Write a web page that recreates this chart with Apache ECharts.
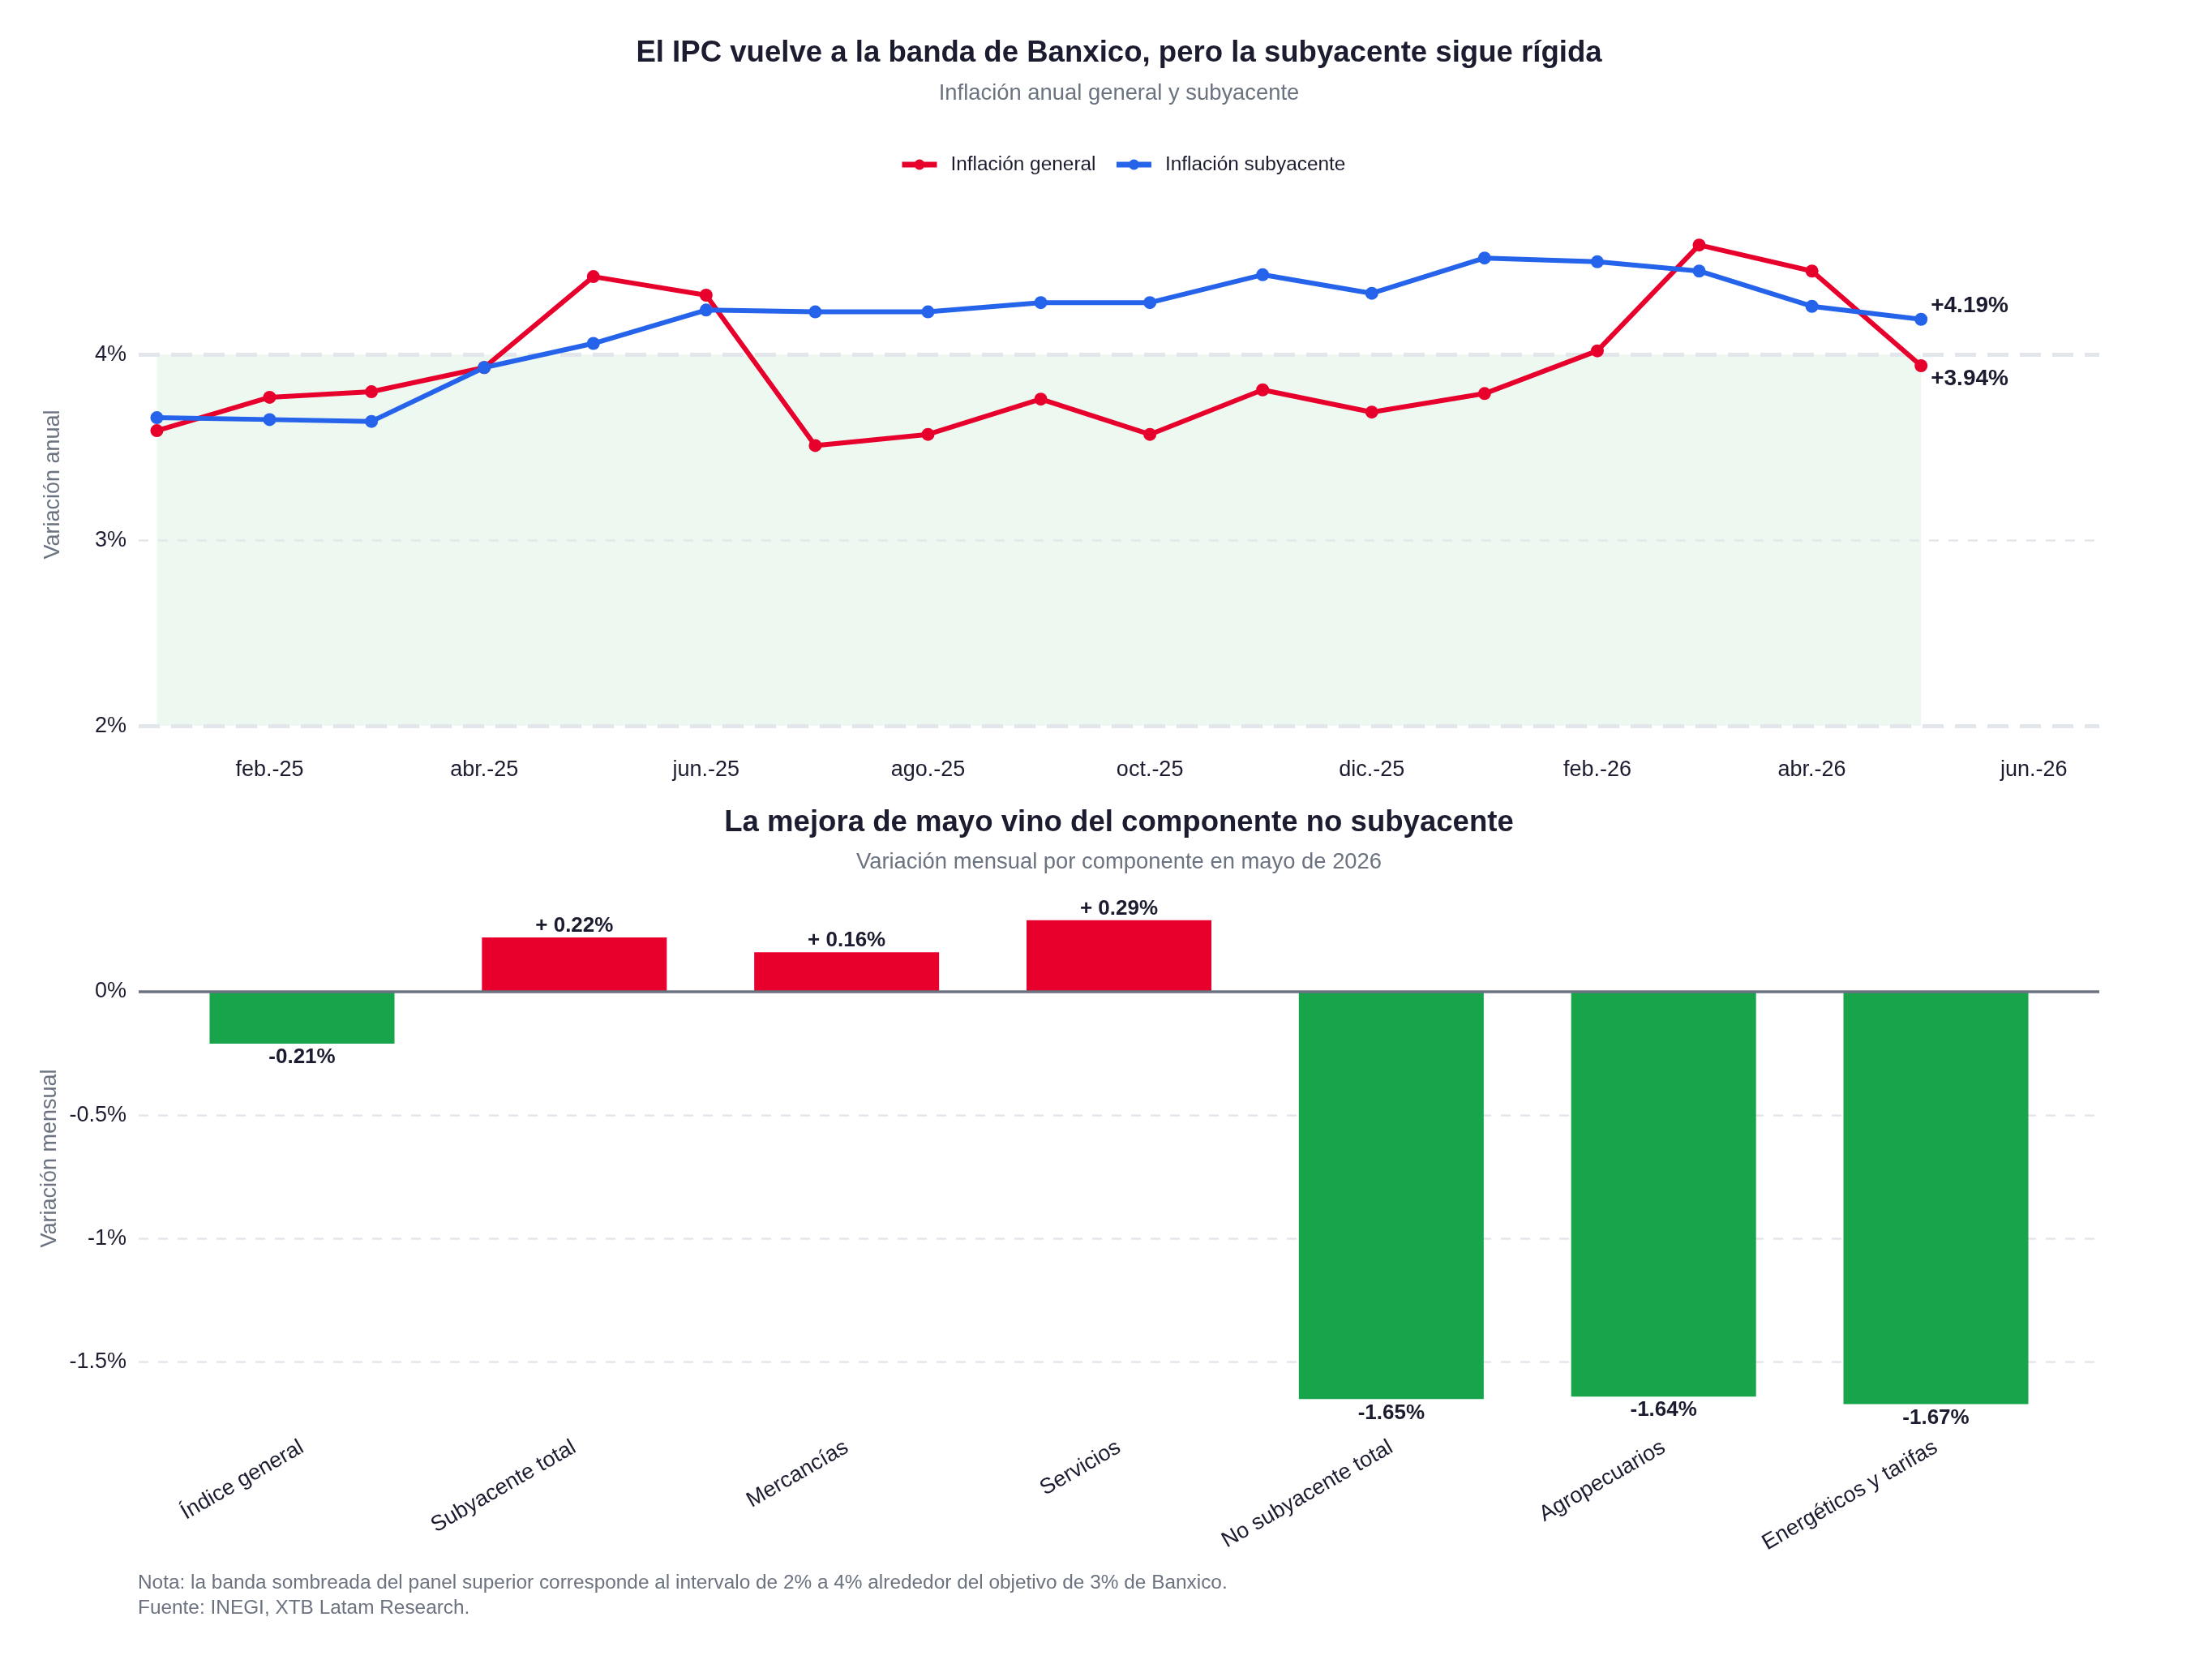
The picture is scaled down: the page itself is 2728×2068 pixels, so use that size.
<!DOCTYPE html>
<html>
<head>
<meta charset="utf-8">
<title>IPC Banxico</title>
<script src="https://cdn.jsdelivr.net/npm/echarts@6/dist/echarts.min.js"></script>
<style>
html,body{margin:0;padding:0;background:#fff;}
#chart{width:2728px;height:2068px;}
</style>
</head>
<body>
<div id="chart"></div>
<script>
// panel superior: inflación anual (ene-25 a may-26)
var meses = ['2025-01-01','2025-02-01','2025-03-01','2025-04-01','2025-05-01','2025-06-01','2025-07-01','2025-08-01','2025-09-01','2025-10-01','2025-11-01','2025-12-01','2026-01-01','2026-02-01','2026-03-01','2026-04-01','2026-05-01'];
var general = [3.59,3.77,3.80,3.93,4.42,4.32,3.51,3.57,3.76,3.57,3.81,3.69,3.79,4.02,4.59,4.45,3.94];
var subyacente = [3.66,3.65,3.64,3.93,4.06,4.24,4.23,4.23,4.28,4.28,4.43,4.33,4.52,4.50,4.45,4.26,4.19];
var ticksMes = ['2025-02-01','2025-04-01','2025-06-01','2025-08-01','2025-10-01','2025-12-01','2026-02-01','2026-04-01','2026-06-01'];
var ticksAnual = [2,3,4];
var banda = [2,4];

// panel inferior: variación mensual mayo 2026
var componentes = ['Índice general','Subyacente total','Mercancías','Servicios','No subyacente total','Agropecuarios','Energéticos y tarifas'];
var variacion = [-0.21,0.22,0.16,0.29,-1.65,-1.64,-1.67];
var ticksMensual = [0,-0.5,-1,-1.5];

var ROJO = '#e8002d', AZUL = '#2563eb', VERDE = '#18a44b';
var TXT = '#1c1c30', GRIS = '#6b7280', REJILLA = '#e3e6ea';
var FUENTE = '"Liberation Sans", Arial, sans-serif';
var abr = ['ene.','feb.','mar.','abr.','may.','jun.','jul.','ago.','sep.','oct.','nov.','dic.'];

// fecha -> milisegundos (eje de valores con fechas)
function ts(s){
    var p = s.split('-');
    return Date.UTC(+p[0], +p[1]-1, +p[2]);
}
function serie(vals){
    return vals.map(function(v,i){ return [ts(meses[i]), v]; });
}

var chart = echarts.init(document.getElementById('chart'));

var option = {
    backgroundColor: '#fff',
    animation: false,
    textStyle: { fontFamily: FUENTE },
    graphic: [
        { type:'text', x:1380, y:66, style:{ text:'El IPC vuelve a la banda de Banxico, pero la subyacente sigue rígida', fill:TXT, fontSize:36.6, fontWeight:'bold', fontFamily:FUENTE, align:'center', verticalAlign:'middle' } },
        { type:'text', x:1380, y:115, style:{ text:'Inflación anual general y subyacente', fill:GRIS, fontSize:27.4, fontFamily:FUENTE, align:'center', verticalAlign:'middle' } },
        { type:'text', x:1380, y:1015, style:{ text:'La mejora de mayo vino del componente no subyacente', fill:TXT, fontSize:36.6, fontWeight:'bold', fontFamily:FUENTE, align:'center', verticalAlign:'middle' } },
        { type:'text', x:1380, y:1063, style:{ text:'Variación mensual por componente en mayo de 2026', fill:GRIS, fontSize:27.4, fontFamily:FUENTE, align:'center', verticalAlign:'middle' } },
        { type:'text', x:170, y:1952, style:{ text:'Nota: la banda sombreada del panel superior corresponde al intervalo de 2% a 4% alrededor del objetivo de 3% de Banxico.', fill:GRIS, fontSize:24.4, fontFamily:FUENTE, align:'left', verticalAlign:'middle' } },
        { type:'text', x:170, y:1983, style:{ text:'Fuente: INEGI, XTB Latam Research.', fill:GRIS, fontSize:24.4, fontFamily:FUENTE, align:'left', verticalAlign:'middle' } }
    ],
    legend: {
        data: ['Inflación general','Inflación subyacente'],
        left: 1104, top: 186,
        itemWidth: 43, itemHeight: 16, itemGap: 22,
        lineStyle: { width: 7 },
        textStyle: { fontSize: 24.4, color: TXT, padding: [0,0,0,12] }
    },
    grid: [
        { left: 171, right: 139, top: 277, height: 641 },
        { left: 171, right: 139, top: 1086, height: 685 }
    ],
    xAxis: [
        {
            type: 'value', gridIndex: 0,
            min: ts('2024-12-27'), max: ts('2026-06-19'),
            axisLine: { show: false }, axisTick: { show: false }, splitLine: { show: false },
            axisLabel: {
                customValues: ticksMes.map(ts),
                formatter: function(v){ var d = new Date(v); return abr[d.getUTCMonth()] + '-' + String(d.getUTCFullYear()).slice(2); },
                fontSize: 27, color: TXT, margin: 18
            }
        },
        {
            type: 'value', gridIndex: 1,
            min: -0.6, max: 6.6,
            axisLine: { show: false }, axisTick: { show: false }, splitLine: { show: false },
            axisLabel: {
                customValues: componentes.map(function(c,i){ return i; }),
                formatter: function(v){ return componentes[v] || ''; },
                rotate: 30, fontSize: 27, color: TXT, margin: 12
            }
        }
    ],
    yAxis: [
        {
            type: 'value', gridIndex: 0, min: 1.9, max: 4.7,
            name: 'Variación anual', nameLocation: 'middle', nameGap: 92,
            nameTextStyle: { color: GRIS, fontSize: 27 },
            axisLine: { show: false }, axisTick: { show: false }, splitLine: { show: false },
            axisLabel: { customValues: ticksAnual, formatter: function(v){ return v + '%'; }, fontSize: 27, color: TXT, margin: 15 }
        },
        {
            type: 'value', gridIndex: 1, min: -1.8, max: 0.45,
            name: 'Variación mensual', nameLocation: 'middle', nameGap: 92,
            nameTextStyle: { color: GRIS, fontSize: 27 },
            axisLine: { show: false }, axisTick: { show: false }, splitLine: { show: false },
            axisLabel: { customValues: ticksMensual, formatter: function(v){ return v + '%'; }, fontSize: 27, color: TXT, margin: 15 }
        }
    ],
    series: [
        {
            // banda 2%-4% y rejilla del panel superior
            type: 'line', xAxisIndex: 0, yAxisIndex: 0, data: [], silent: true,
            markArea: {
                silent: true, z: 1,
                itemStyle: { color: 'rgba(22,163,74,0.08)' },
                data: [[{ xAxis: ts(meses[0]), yAxis: banda[0] }, { xAxis: ts(meses[meses.length-1]), yAxis: banda[1] }]]
            },
            markLine: {
                silent: true, z: 1, symbol: 'none', label: { show: false },
                data: ticksAnual.map(function(t){
                    var borde = banda.indexOf(t) >= 0;
                    return { yAxis: t, lineStyle: { color: REJILLA, width: borde ? 5 : 2.5, type: borde ? [26,14] : [12,12] } };
                })
            }
        },
        {
            name: 'Inflación general', type: 'line', xAxisIndex: 0, yAxisIndex: 0, z: 3,
            data: serie(general),
            symbol: 'circle', symbolSize: 16,
            lineStyle: { color: ROJO, width: 6 }, itemStyle: { color: ROJO },
            endLabel: { show: true, distance: 12, offset: [0, 16], fontSize: 28, fontWeight: 'bold', color: TXT,
                formatter: function(p){ return '+' + p.value[1].toFixed(2) + '%'; } }
        },
        {
            name: 'Inflación subyacente', type: 'line', xAxisIndex: 0, yAxisIndex: 0, z: 3,
            data: serie(subyacente),
            symbol: 'circle', symbolSize: 16,
            lineStyle: { color: AZUL, width: 6 }, itemStyle: { color: AZUL },
            endLabel: { show: true, distance: 12, offset: [0, -16], fontSize: 28, fontWeight: 'bold', color: TXT,
                formatter: function(p){ return '+' + p.value[1].toFixed(2) + '%'; } }
        },
        {
            // rejilla del panel inferior (detrás de las barras)
            type: 'line', xAxisIndex: 1, yAxisIndex: 1, data: [], silent: true,
            markLine: {
                silent: true, z: 1, symbol: 'none', label: { show: false },
                data: ticksMensual.filter(function(t){ return t !== 0; }).map(function(t){
                    return { yAxis: t, lineStyle: { color: REJILLA, width: 2.5, type: [12,12] } };
                })
            }
        },
        {
            type: 'bar', xAxisIndex: 1, yAxisIndex: 1, z: 3, barWidth: 228,
            data: variacion.map(function(v,i){
                return {
                    value: [i, v],
                    itemStyle: { color: v > 0 ? ROJO : VERDE },
                    label: { position: v > 0 ? 'top' : 'bottom', distance: v > 0 ? 1 : 4 }
                };
            }),
            label: {
                show: true, fontSize: 26, fontWeight: 'bold', color: TXT,
                formatter: function(p){ var v = p.value[1]; return (v > 0 ? '+ ' : '') + v.toFixed(2) + '%'; }
            }
        },
        {
            // línea de cero
            type: 'line', xAxisIndex: 1, yAxisIndex: 1, data: [], silent: true,
            markLine: {
                silent: true, z: 6, symbol: 'none', label: { show: false },
                data: [{ yAxis: 0, lineStyle: { color: GRIS, width: 3.5, type: 'solid' } }]
            }
        }
    ]
};

chart.setOption(option);
</script>
</body>
</html>
